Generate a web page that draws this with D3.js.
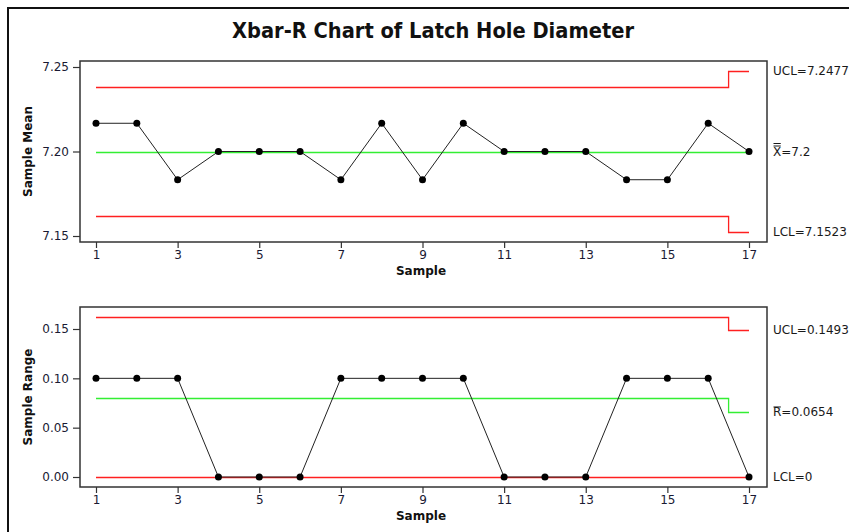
<!DOCTYPE html>
<html>
<head>
<meta charset="utf-8">
<script src="https://cdn.jsdelivr.net/npm/d3@7"></script>
<style>
  body { margin: 0; background: #fff; }
  text { font-family: Tahoma, "DejaVu Sans", sans-serif; }
</style>
</head>
<body>
<div id="chart"></div>
<script>
(() => {
    const samples = d3.range(1, 18);
    const means = [7.2167, 7.2167, 7.1833, 7.2, 7.2, 7.2, 7.1833, 7.2167, 7.1833,
                   7.2167, 7.2, 7.2, 7.2, 7.1833, 7.1833, 7.2167, 7.2];
    const ranges = [0.1, 0.1, 0.1, 0, 0, 0, 0.1, 0.1, 0.1, 0.1, 0, 0, 0, 0.1, 0.1, 0.1, 0];

    // control limits: value for samples 1-16, then the last subgroup
    const meanUcl = [7.2380, 7.2477];
    const meanCl = [7.2, 7.2];
    const meanLcl = [7.1620, 7.1523];
    const rangeUcl = [0.1626, 0.1493];
    const rangeCl = [0.0803, 0.0654];
    const rangeLcl = [0, 0];

    const meanTicks = [7.15, 7.20, 7.25];
    const rangeTicks = [0.00, 0.05, 0.10, 0.15];
    const xTicks = [1, 3, 5, 7, 9, 11, 13, 15, 17];

    const width = 849, height = 532;

    const svg = d3.select('#chart')
        .append('svg')
        .attr('width', width)
        .attr('height', height);

    // outer frame (only left/top edges visible)
    svg.append('path')
        .attr('d', 'M8,540 V8 H860')
        .attr('fill', 'none')
        .attr('stroke', '#111')
        .attr('stroke-width', 2);

    svg.append('text')
        .attr('x', 232)
        .attr('y', 38)
        .attr('font-family', '"DejaVu Sans Condensed", "Liberation Sans Narrow", sans-serif')
        .attr('font-size', 21)
        .attr('font-weight', 'bold')
        .attr('fill', '#111')
        .attr('textLength', 402)
        .attr('lengthAdjust', 'spacingAndGlyphs')
        .text('Xbar-R Chart of Latch Hole Diameter');

    const x = d3.scaleLinear().domain([1, 17]).range([96, 749]);
    const boxLeft = 80, boxRight = 767;

    function panel(opts) {
        const y = d3.scaleLinear().domain(opts.domain).range(opts.range);
        const g = svg.append('g');

        g.append('rect')
            .attr('x', boxLeft)
            .attr('y', opts.top)
            .attr('width', boxRight - boxLeft)
            .attr('height', opts.bottom - opts.top)
            .attr('fill', 'none')
            .attr('stroke', '#333')
            .attr('stroke-width', 1.5);

        const yAxis = g.append('g')
            .attr('transform', `translate(${boxLeft},0)`)
            .call(d3.axisLeft(y).tickValues(opts.ticks).tickFormat(d3.format('.2f')).tickSize(7).tickPadding(4));
        yAxis.select('.domain').remove();

        const xAxis = g.append('g')
            .attr('transform', `translate(0,${opts.bottom})`)
            .call(d3.axisBottom(x).tickValues(xTicks).tickSize(6).tickPadding(2));
        xAxis.select('.domain').remove();

        g.selectAll('.tick text')
            .attr('font-family', 'Tahoma, "DejaVu Sans", sans-serif')
            .attr('font-size', 12)
            .attr('fill', '#1a1a33');
        g.selectAll('.tick line').attr('stroke', '#333').attr('stroke-width', 1.2);

        // step control lines
        const stepLine = (vals, color) => {
            const pts = [[1, vals[0]], [16.5, vals[0]], [16.5, vals[1]], [17, vals[1]]];
            g.append('path')
                .attr('d', d3.line().x(d => x(d[0])).y(d => Math.round(y(d[1])) + 0.5)(pts))
                .attr('fill', 'none')
                .attr('stroke', color)
                .attr('stroke-width', 1.3);
        };
        stepLine(opts.ucl, '#ff2020');
        stepLine(opts.lcl, '#ff2020');
        stepLine(opts.cl, '#33ee33');

        g.append('path')
            .datum(opts.data)
            .attr('d', d3.line().x((d, i) => x(samples[i])).y(d => y(d)))
            .attr('fill', 'none')
            .attr('stroke', '#222')
            .attr('stroke-width', 1);

        g.selectAll('circle')
            .data(opts.data)
            .enter().append('circle')
            .attr('cx', (d, i) => x(samples[i]))
            .attr('cy', d => y(d))
            .attr('r', 3.5)
            .attr('fill', '#000');

        g.append('text')
            .attr('transform', `translate(32,${(opts.top + opts.bottom) / 2}) rotate(-90)`)
            .attr('text-anchor', 'middle')
            .attr('font-size', 12)
            .attr('font-weight', 'bold')
            .attr('fill', '#111')
            .text(opts.ylabel);

        g.append('text')
            .attr('x', 421)
            .attr('y', opts.bottom + 33)
            .attr('text-anchor', 'middle')
            .attr('font-size', 12)
            .attr('font-weight', 'bold')
            .attr('fill', '#111')
            .text('Sample');

        const labels = g.selectAll('.lim')
            .data(opts.labels)
            .enter().append('text')
            .attr('x', 773)
            .attr('y', d => y(d.v) + 4)
            .attr('font-size', 12)
            .attr('fill', '#1a1a1a')
            .text(d => d.text);

        // overbars for X-double-bar and R-bar
        labels.filter(d => d.bars).each(function (d) {
            const b = this.getBBox();
            const w = this.getSubStringLength(0, 1);
            for (let k = 0; k < d.bars; k++) {
                g.append('line')
                    .attr('x1', b.x + 0.5).attr('x2', b.x + w - 0.5)
                    .attr('y1', b.y + 1.5 - k * 2.5).attr('y2', b.y + 1.5 - k * 2.5)
                    .attr('stroke', '#1a1a1a')
                    .attr('stroke-width', 1);
            }
        });
        return y;
    }

    panel({
        domain: [7.15, 7.25], range: [236, 67], top: 61, bottom: 242,
        ticks: meanTicks, data: means,
        ucl: meanUcl, cl: meanCl, lcl: meanLcl,
        ylabel: 'Sample Mean',
        labels: [
            { v: meanUcl[1], text: 'UCL=7.2477' },
            { v: meanCl[1], text: 'X=7.2', bars: 2 },
            { v: meanLcl[1], text: 'LCL=7.1523' }
        ]
    });

    panel({
        domain: [0, 0.15], range: [477, 329], top: 307, bottom: 487,
        ticks: rangeTicks, data: ranges,
        ucl: rangeUcl, cl: rangeCl, lcl: rangeLcl,
        ylabel: 'Sample Range',
        labels: [
            { v: rangeUcl[1], text: 'UCL=0.1493' },
            { v: rangeCl[1], text: 'R=0.0654', bars: 1 },
            { v: rangeLcl[1], text: 'LCL=0' }
        ]
    });
})();
</script>
</body>
</html>
